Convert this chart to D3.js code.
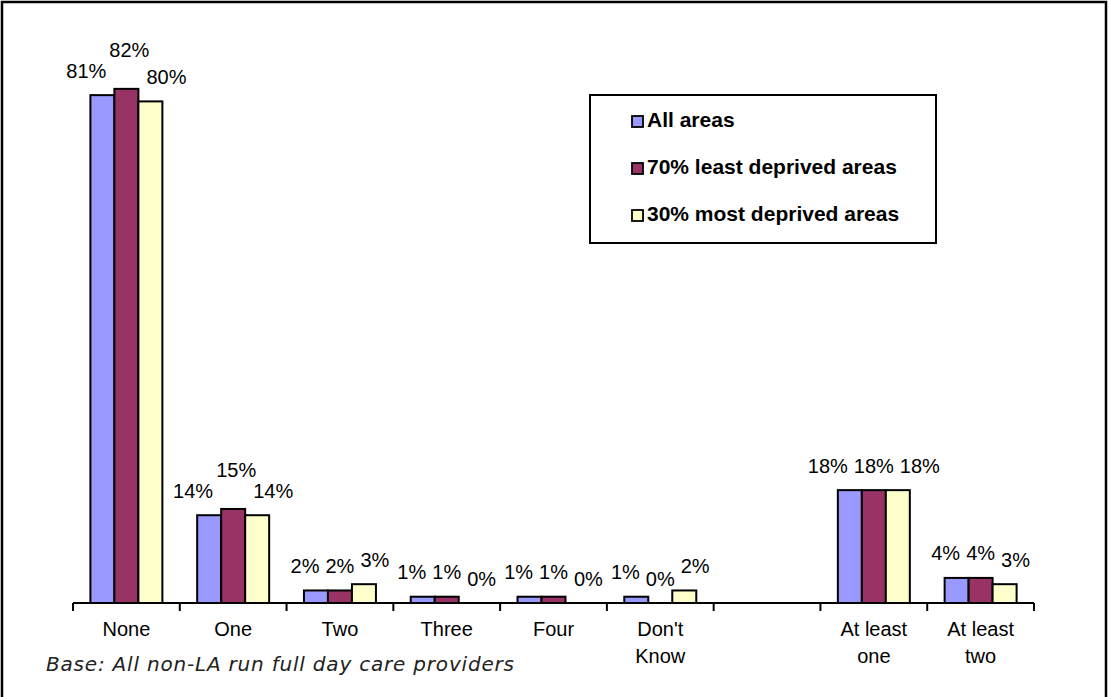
<!DOCTYPE html>
<html>
<head>
<meta charset="utf-8">
<script src="https://cdn.jsdelivr.net/npm/d3@7"></script>
<style>
  html, body { margin: 0; padding: 0; background: #fff; }
  svg { display: block; }
</style>
</head>
<body>
<svg id="chart" width="1109" height="697"></svg>
<script>
// ---- data ----
const categories = ["None", "One", "Two", "Three", "Four", "Don't\nKnow", "", "At least\none", "At least\ntwo"];
const seriesNames = ["All areas", "70% least deprived areas", "30% most deprived areas"];
const allAreas       = [81, 14, 2, 1, 1, 1, null, 18, 4];
const leastDeprived  = [82, 15, 2, 1, 1, 0, null, 18, 4];
const mostDeprived   = [80, 14, 3, 0, 0, 2, null, 18, 3];
const seriesValues = [allAreas, leastDeprived, mostDeprived];
const footnote = "Base: All non-LA run full day care providers";

// ---- style ----
const colors = ["#9999FF", "#993366", "#FFFFCC"];
const font = "'Liberation Sans', Arial, sans-serif";

const svg = d3.select("#chart");

// outer frame
svg.append("rect").attr("x", 2).attr("y", 2).attr("width", 1104).attr("height", 720)
  .attr("fill", "#fff").attr("stroke", "#000").attr("stroke-width", 2.5);

const baseY = 603;
const x = d3.scaleBand().domain(d3.range(categories.length)).range([73, 1034]).paddingInner(0).paddingOuter(0);
const xs = d3.scaleBand().domain(d3.range(3)).range([0, x.bandwidth()]).paddingInner(0).paddingOuter(0.725);
const y = d3.scaleLinear().domain([0, 90]).range([baseY, baseY - 90 * 6.27]);

// bars
const barData = [];
categories.forEach((c, i) => {
  seriesValues.forEach((vals, s) => {
    if (vals[i] !== null) barData.push({ i, s, v: vals[i] });
  });
});

svg.append("g").selectAll("rect").data(barData.filter(d => d.v > 0)).join("rect")
  .attr("x", d => x(d.i) + xs(d.s))
  .attr("y", d => y(d.v))
  .attr("width", xs.bandwidth())
  .attr("height", d => y(0) - y(d.v))
  .attr("fill", d => colors[d.s])
  .attr("stroke", "#000").attr("stroke-width", 2);

// axis
const axisG = svg.append("g");
axisG.append("line").attr("x1", x.range()[0]).attr("x2", x.range()[1])
  .attr("y1", baseY).attr("y2", baseY).attr("stroke", "#000").attr("stroke-width", 2);
const tickPos = d3.range(categories.length + 1).map(k => x.range()[0] + k * x.step());
axisG.selectAll("line.tick").data(tickPos).join("line").attr("class", "tick")
  .attr("x1", d => d).attr("x2", d => d).attr("y1", baseY).attr("y2", baseY + 8)
  .attr("stroke", "#000").attr("stroke-width", 2);

// category labels
categories.forEach((c, i) => {
  if (!c) return;
  const t = svg.append("text").attr("text-anchor", "middle")
    .attr("font-family", font).attr("font-size", 20).attr("fill", "#000");
  c.split("\n").forEach((line, k) => {
    t.append("tspan").attr("x", x(i) + x.bandwidth() / 2).attr("y", 636 + k * 27).text(line);
  });
});

// data labels (spread horizontally to avoid overlap)
const labelG = svg.append("g");
categories.forEach((c, i) => {
  const vals = seriesValues.map(v => v[i]);
  if (vals[0] === null) return;
  const texts = vals.map((v, s) => labelG.append("text")
    .attr("font-family", font).attr("font-size", 20).attr("fill", "#000")
    .attr("text-anchor", "middle").text(v + "%"));
  const w = texts.map(t => t.node().getComputedTextLength());
  const centers = vals.map((v, s) => x(i) + xs(s) + xs.bandwidth() / 2);
  const raised = vals[1] > vals[0] && vals[1] > vals[2];
  const gap = raised ? 0 : 6;
  const sL = Math.max(centers[1] - centers[0], (w[0] + w[1]) / 2 + gap);
  const sR = Math.max(centers[2] - centers[1], (w[1] + w[2]) / 2 + gap);
  const cx = [centers[1] - sL, centers[1] + (raised ? 3 : 0), centers[1] + sR];
  texts.forEach((t, s) => {
    const extra = (raised && s === 1) ? 14 : 0;
    t.attr("x", cx[s]).attr("y", y(vals[s]) - 17.5 - extra);
  });
});

// legend
const lg = svg.append("g");
lg.append("rect").attr("x", 590).attr("y", 95).attr("width", 346).attr("height", 148)
  .attr("fill", "#fff").attr("stroke", "#000").attr("stroke-width", 2);
seriesNames.forEach((name, s) => {
  const ty = 116 + s * 47;
  lg.append("rect").attr("x", 632).attr("y", ty).attr("width", 11).attr("height", 11)
    .attr("fill", colors[s]).attr("stroke", "#000").attr("stroke-width", 1.8);
  lg.append("text").attr("x", 647).attr("y", ty + 11)
    .attr("font-family", font).attr("font-size", 21).attr("font-weight", "bold")
    .attr("fill", "#000").text(name);
});

// footnote
svg.append("text").attr("x", 46).attr("y", 671)
  .attr("font-family", "'DejaVu Sans', Verdana, sans-serif").attr("font-style", "italic")
  .attr("font-size", 20).attr("letter-spacing", 0.8).attr("fill", "#222").text(footnote);
</script>
</body>
</html>
